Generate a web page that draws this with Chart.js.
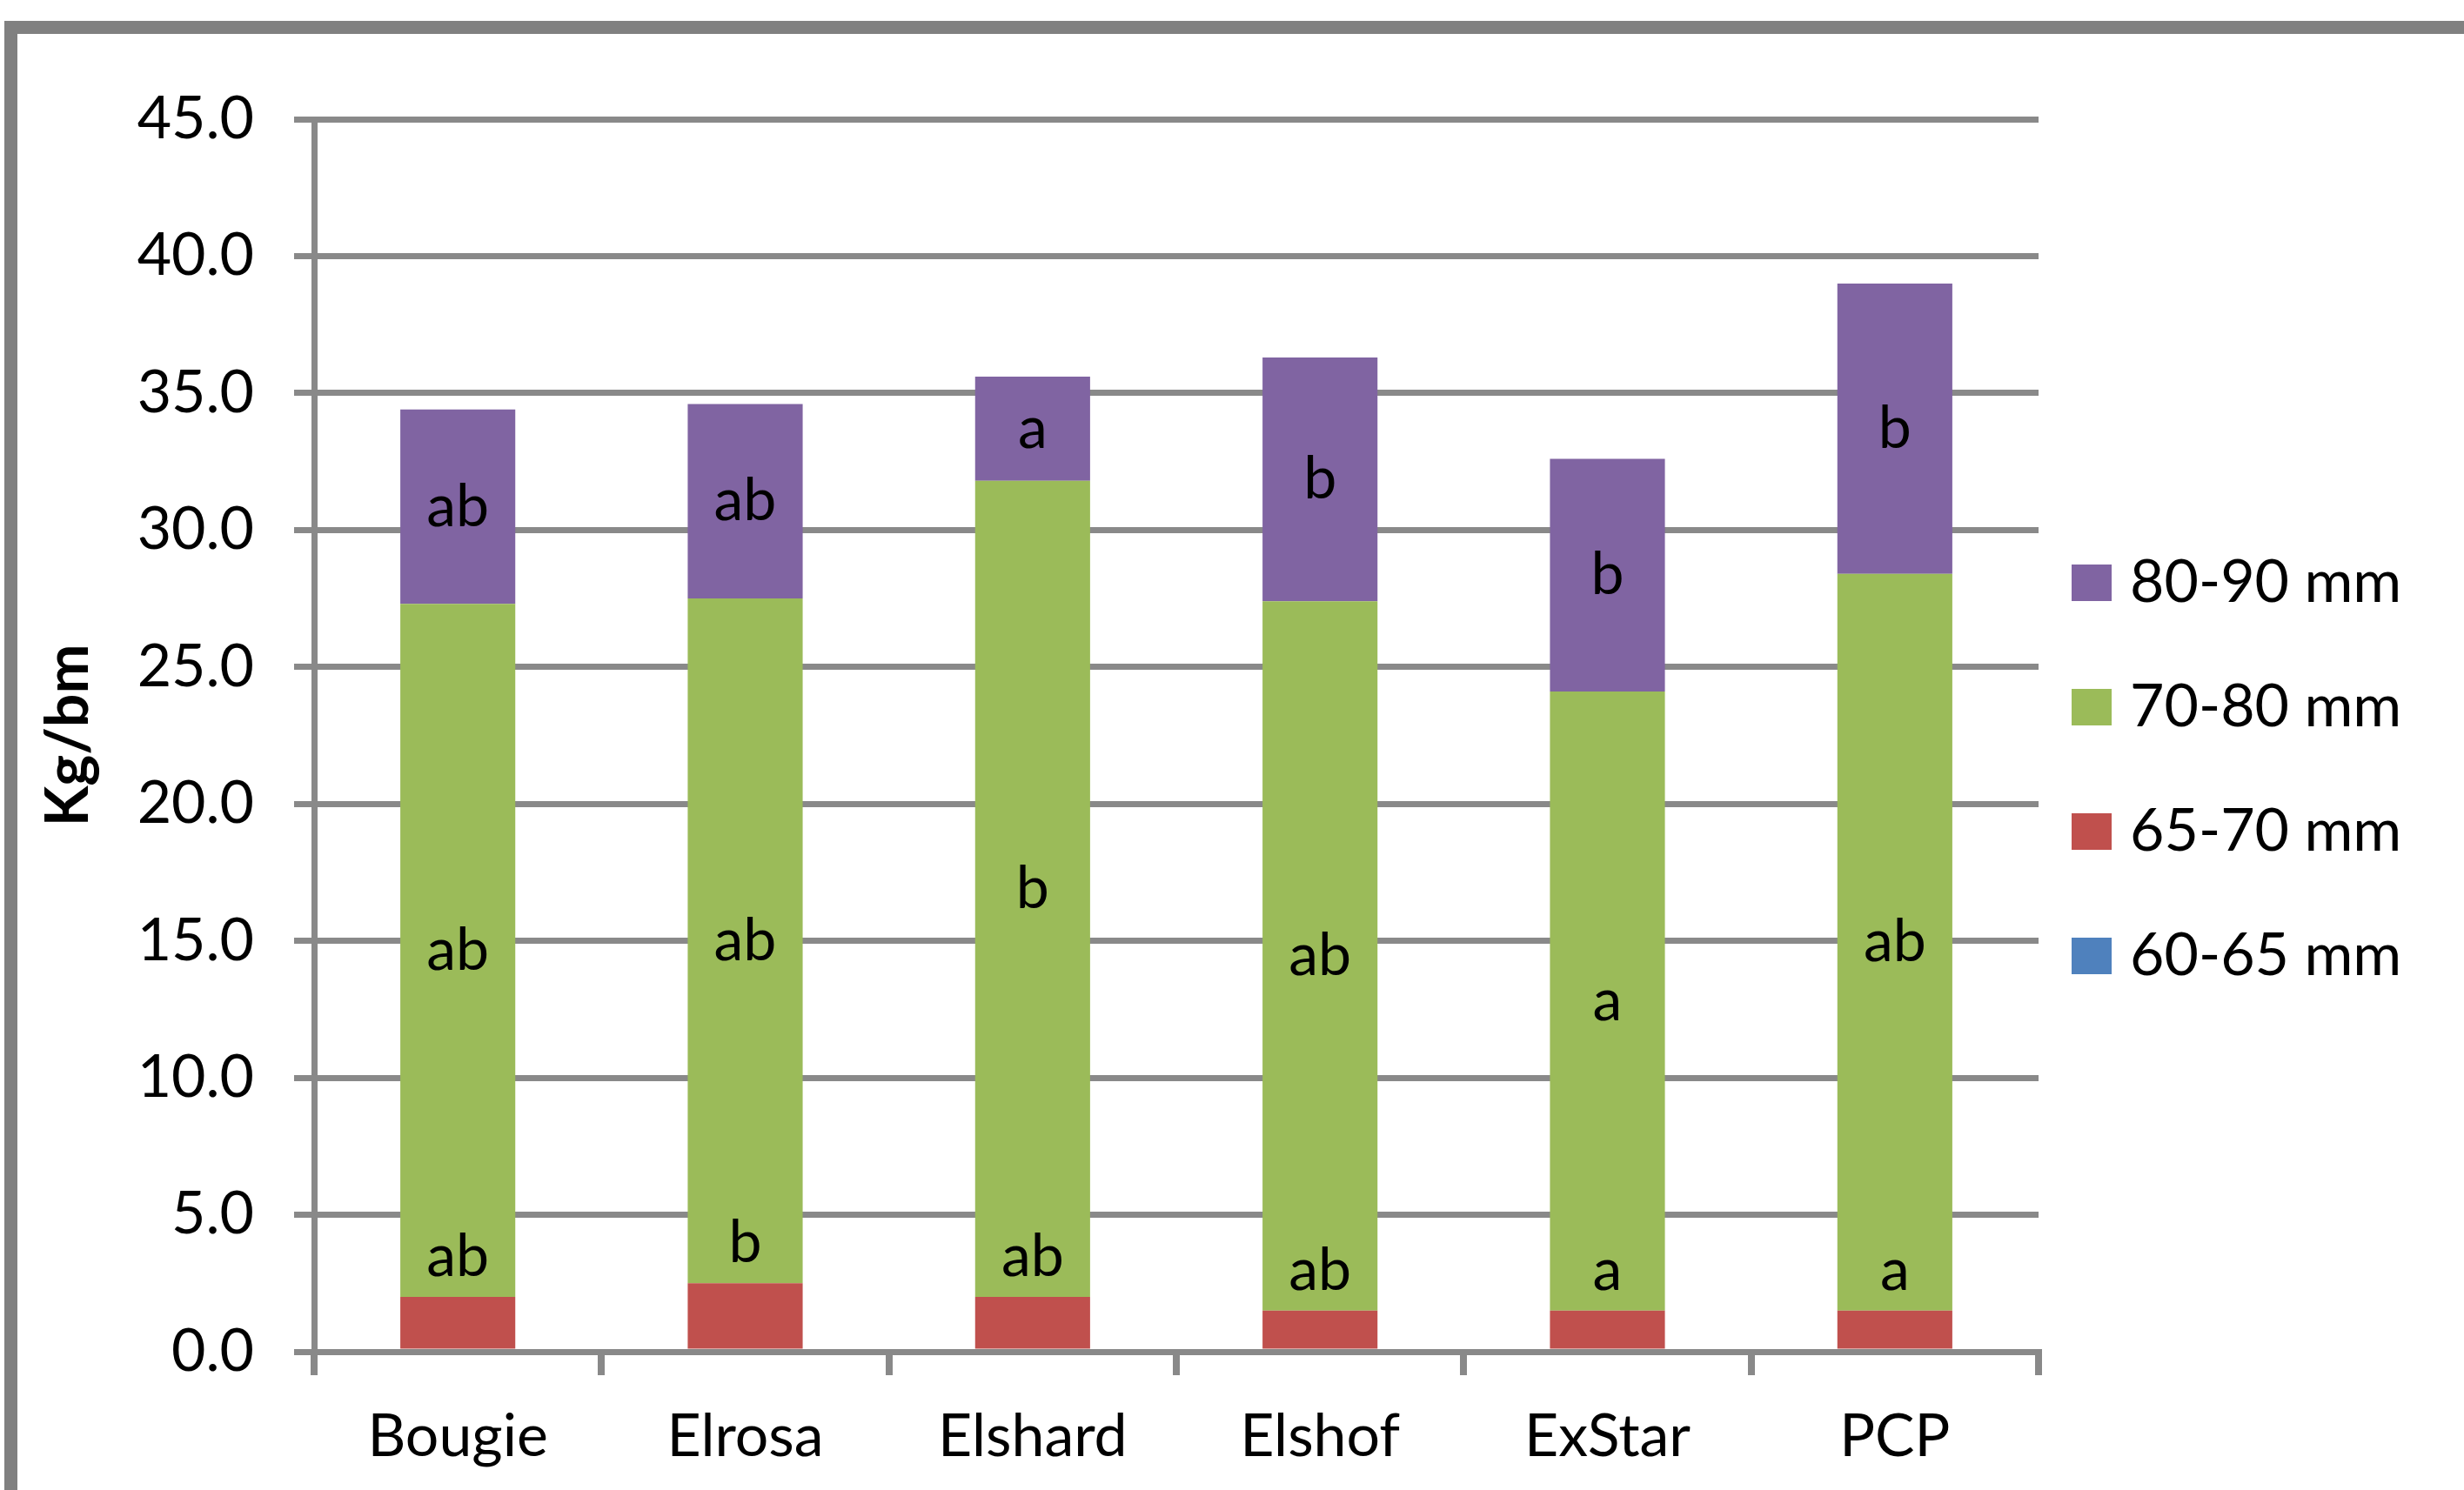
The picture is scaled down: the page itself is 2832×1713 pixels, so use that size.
<!DOCTYPE html>
<html>
<head>
<meta charset="utf-8">
<script src="https://cdn.jsdelivr.net/npm/chart.js@4.4.1/dist/chart.umd.min.js"></script>
<style>
  html, body { margin: 0; padding: 0; background: #ffffff; }
  #wrap { width: 2832px; height: 1713px; }
</style>
</head>
<body>
<div id="wrap"><canvas id="c" width="2832" height="1713"></canvas></div>
<script>
// ---- data ----
const categories = ['Bougie', 'Elrosa', 'Elshard', 'Elshof', 'ExStar', 'PCP'];
const seriesNames = ['60-65 mm', '65-70 mm', '70-80 mm', '80-90 mm'];
const s6065 = [0, 0, 0, 0, 0, 0];
const s6570 = [2.0, 2.5, 2.0, 1.5, 1.5, 1.5];
const s7080 = [25.3, 25.0, 29.8, 25.9, 22.6, 26.9];
const s8090 = [7.1, 7.1, 3.8, 8.9, 8.5, 10.6];
const letters6570 = ['ab', 'b', 'ab', 'ab', 'a', 'a'];
const letters7080 = ['ab', 'ab', 'b', 'ab', 'a', 'ab'];
const letters8090 = ['ab', 'ab', 'a', 'b', 'b', 'b'];
const yTicks = [0, 5, 10, 15, 20, 25, 30, 35, 40, 45];
const yTitle = 'Kg/bm';

// ---- styles ----
const colors = ['#4F81BD', '#C0504D', '#9BBB59', '#8064A2'];
const FONT = 'Lato';
const FS = 68;
const GRID = '#898989';

const seriesValues = [s6065, s6570, s7080, s8090];
const seriesLetters = [null, letters6570, letters7080, letters8090];

const frame = {
  id: 'frame',
  beforeDraw(chart) {
    const ctx = chart.ctx;
    ctx.save();
    ctx.fillStyle = '#ffffff';
    ctx.fillRect(0, 0, chart.width, chart.height);
    ctx.fillStyle = '#808080';
    ctx.fillRect(5, 24, chart.width - 5, 15);
    ctx.fillRect(5, 24, 15, chart.height - 24);
    ctx.restore();
  }
};

const letters = {
  id: 'letters',
  afterDatasetsDraw(chart) {
    const ctx = chart.ctx;
    ctx.save();
    ctx.font = FS + 'px ' + FONT;
    ctx.fillStyle = '#000000';
    ctx.textAlign = 'center';
    ctx.textBaseline = 'middle';
    chart.data.datasets.forEach((ds, d) => {
      const lab = seriesLetters[d];
      if (!lab) return;
      const meta = chart.getDatasetMeta(d);
      meta.data.forEach((el, i) => {
        let ty;
        if (d === 1) ty = el.y - 46;
        else ty = (el.y + el.base) / 2;
        ctx.fillText(lab[i], el.x, ty);
      });
    });
    ctx.restore();
  }
};

const sideLegend = {
  id: 'sideLegend',
  afterDraw(chart) {
    const ctx = chart.ctx;
    const ds = chart.data.datasets;
    const x0 = chart.chartArea.right + 38;
    ctx.save();
    ctx.font = FS + 'px ' + FONT;
    ctx.textBaseline = 'middle';
    ctx.textAlign = 'left';
    let cy = 670;
    for (let i = ds.length - 1; i >= 0; i--) {
      ctx.fillStyle = ds[i].backgroundColor;
      ctx.fillRect(x0, cy - 21, 46, 42);
      ctx.fillStyle = '#000000';
      ctx.fillText(ds[i].label, x0 + 67, cy);
      cy += 143;
    }
    ctx.restore();
  }
};

new Chart(document.getElementById('c'), {
  type: 'bar',
  data: {
    labels: categories,
    datasets: seriesNames.map((n, k) => ({
      label: n,
      data: seriesValues[k],
      backgroundColor: colors[k],
      borderWidth: 0,
      barPercentage: 1.0,
      categoryPercentage: 0.4
    }))
  },
  options: {
    responsive: false,
    devicePixelRatio: 1,
    animation: false,
    layout: { padding: { left: 0, top: 137, right: 489, bottom: 0 } },
    plugins: {
      legend: { display: false },
      tooltip: { enabled: false }
    },
    scales: {
      x: {
        stacked: true,
        grid: {
          display: true,
          offset: true,
          drawOnChartArea: false,
          drawTicks: true,
          tickLength: 27,
          color: GRID,
          lineWidth: 8
        },
        border: { display: true, color: GRID, width: 7 },
        ticks: {
          color: '#000000',
          font: { family: FONT, size: FS },
          padding: 30,
          maxRotation: 0,
          autoSkip: false
        },
        afterFit(scale) { scale.height = 159; }
      },
      y: {
        stacked: true,
        min: 0,
        max: 45,
        afterBuildTicks(scale) { scale.ticks = yTicks.map(v => ({ value: v })); },
        grid: {
          color: GRID,
          lineWidth: 7,
          drawTicks: true,
          tickLength: 23
        },
        border: { display: true, color: GRID, width: 7 },
        ticks: {
          color: '#000000',
          font: { family: FONT, size: FS },
          padding: 46,
          callback: v => Number(v).toFixed(1)
        },
        title: {
          display: true,
          text: yTitle,
          color: '#000000',
          font: { family: FONT, size: FS, weight: 'bold' },
          padding: { top: 38, bottom: 0 }
        },
        afterFit(scale) { scale.width = 361; }
      }
    }
  },
  plugins: [frame, letters, sideLegend]
});
</script>
</body>
</html>
